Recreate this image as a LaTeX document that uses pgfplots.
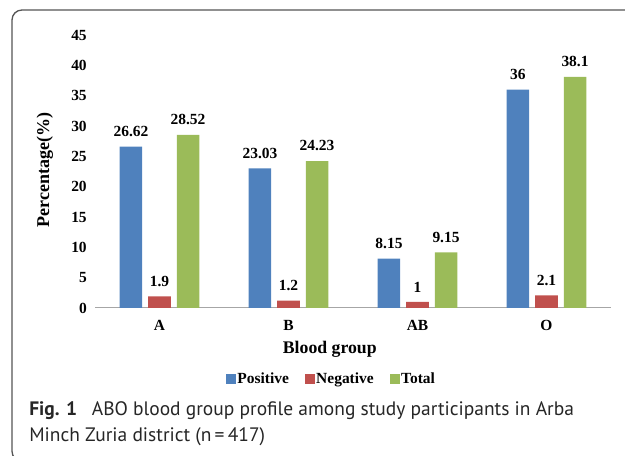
\documentclass[border=0pt]{standalone}
\usepackage{pgfplots}
\pgfplotsset{compat=1.18}
\usepackage{fontspec}
\setmainfont{Liberation Serif}
\newfontfamily\capfont{PT Sans}
\definecolor{cpos}{HTML}{4F81BD}
\definecolor{cneg}{HTML}{C0504D}
\definecolor{ctot}{HTML}{9BBB59}
\definecolor{framec}{HTML}{555555}
\definecolor{axisgray}{HTML}{A6A6A6}
\begin{document}
\begin{tikzpicture}
\useasboundingbox (0,0) rectangle (468.75pt,342pt);
\begin{scope}
\clip (0,0) rectangle (468.75pt,342pt);
\draw[framec, line width=1pt, rounded corners=7.5pt] (9pt,-4pt) rectangle (490pt,334.5pt);
\end{scope}
\begin{axis}[
  at={(71.25pt,111pt)}, anchor=south west,
  scale only axis, width=387pt, height=204.75pt,
  xmin=-0.5, xmax=3.5, ymin=0, ymax=45,
  xtick={0,1,2,3}, xticklabels={A,B,AB,O},
  ytick={0,5,...,45},
  axis x line*=bottom, axis y line*=left,
  y axis line style={draw=none},
  x axis line style={draw=axisgray, line width=0.75pt},
  major tick length=0pt,
  /pgf/number format/assume math mode=true,
  tick label style={font=\fontsize{11.6}{13}\selectfont\bfseries},
  yticklabel style={anchor=east, inner sep=0pt, xshift=-6pt},
  xticklabel style={anchor=base, inner sep=0pt, yshift=-16.9pt},
  xlabel={Blood group}, ylabel={Percentage(\%)},
  xlabel style={at={(axis description cs:0.455,-0.165)}, anchor=base, inner sep=0pt, font=\fontsize{13.3}{15}\selectfont\bfseries},
  ylabel style={at={(axis description cs:-0.097,0.505)}, anchor=center, inner sep=0pt, font=\fontsize{13.5}{15}\selectfont\bfseries},
  ybar, bar width=16.9pt,
  nodes near coords={\pgfmathprintnumber[fixed,precision=2]{\pgfplotspointmeta}},
  every node near coord/.append style={font=\fontsize{11.6}{13}\selectfont\bfseries, anchor=south, inner sep=0pt, yshift=7.2pt, text=black},
  legend style={at={(axis description cs:0.457,-0.26)}, anchor=center, draw=none, fill=none, legend columns=-1,
    font=\fontsize{11.6}{13}\selectfont\bfseries, nodes={inner sep=0.5pt}, column sep=0.5pt},
  legend image code/.code={\fill[#1] (0pt,-3.75pt) rectangle (7.5pt,3.75pt);},
]
\addplot[fill=cpos, draw=none, bar shift=-21.4pt] coordinates {(0,26.62) (1,23.03) (2,8.15) (3,36)};
\addlegendentry{Positive\hspace*{11pt}}
\addplot[fill=cneg, draw=none, bar shift=0pt] coordinates {(0,1.9) (1,1.2) (2,1) (3,2.1)};
\addlegendentry{Negative\hspace*{11pt}}
\addplot[fill=ctot, draw=none, bar shift=21.4pt] coordinates {(0,28.52) (1,24.23) (2,9.15) (3,38.1)};
\addlegendentry{Total}
\end{axis}
\node[anchor=base west, inner sep=0pt, text=black!85, font=\capfont\fontsize{14.6}{17}\selectfont] at (21.75pt,30pt) {\textbf{Fig. 1}\hspace{11pt}ABO blood group profile among study participants in Arba};
\node[anchor=base west, inner sep=0pt, text=black!85, font=\capfont\fontsize{14.6}{17}\selectfont] at (21.75pt,10.5pt) {Minch Zuria district (n\,=\,417)};
\end{tikzpicture}
\end{document}
